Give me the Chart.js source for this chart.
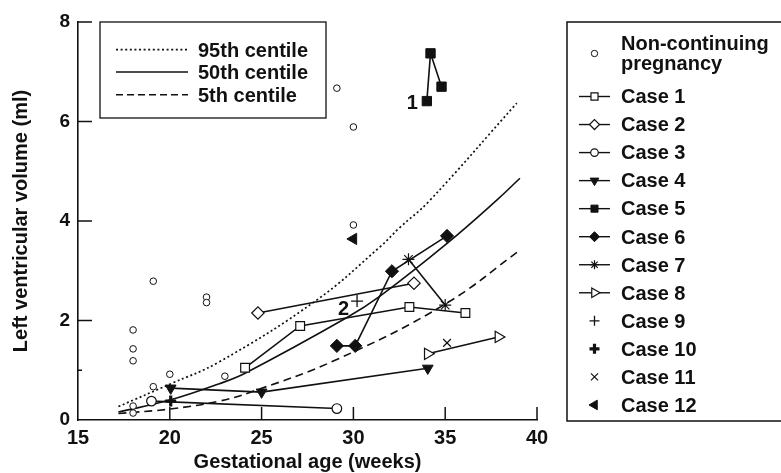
<!DOCTYPE html>
<html><head><meta charset="utf-8">
<script src="https://cdn.jsdelivr.net/npm/chart.js@4"></script>
<style>html,body{margin:0;padding:0;background:#fff}#wrap{width:781px;height:473px;position:relative;overflow:hidden}</style>
</head><body><div id="wrap"><canvas id="c" width="781" height="473"></canvas></div>
<script>
// ---- tick values ----
const xTickValues = [15, 20, 25, 30, 35, 40];
const yTickValues = [0, 2, 4, 6, 8];
const yMinorTickValues = [1];

// ---- series (gestational age in weeks, LV volume in ml) ----
const nonContX = [18, 18, 18, 19.1, 22, 22, 20, 23, 19.1, 18, 18, 29.1, 30, 30];
const nonContY = [1.81, 1.43, 1.19, 2.79, 2.47, 2.36, 0.92, 0.88, 0.67, 0.28, 0.14, 6.67, 5.89, 3.92];
const case1X = [24.1, 27.1, 33.05, 36.1];  const case1Y = [1.05, 1.89, 2.27, 2.15];
const case2X = [24.8, 33.3];               const case2Y = [2.15, 2.75];
const case3X = [19.0, 29.1];               const case3Y = [0.38, 0.23];
const case4X = [20.05, 25.0, 34.05];       const case4Y = [0.64, 0.56, 1.04];
const case5X = [34.0, 34.2, 34.8];         const case5Y = [6.41, 7.37, 6.70];
const case6X = [29.1, 30.1, 32.1, 35.1];   const case6Y = [1.49, 1.49, 2.99, 3.70];
const case7X = [33.0, 35.0];               const case7Y = [3.23, 2.31];
const case8X = [34.05, 37.9];              const case8Y = [1.33, 1.67];
const case9X = [30.2];                     const case9Y = [2.39];
const case10X = [20.05];                   const case10Y = [0.38];
const case11X = [35.1];                    const case11Y = [1.55];
const case12X = [30.0];                    const case12Y = [3.64];

// centile curves
const c95X = [17.2, 20, 22.7, 28, 31.45, 32.5, 34.1, 38.9];
const c95Y = [0.27, 0.72, 1.17, 2.41, 3.48, 3.86, 4.39, 6.37];
const c50X = [17.2, 20, 22.7, 24.1, 29.65, 31.45, 35.1, 37.9, 39.07];
const c50Y = [0.16, 0.40, 0.73, 0.94, 2.06, 2.49, 3.55, 4.45, 4.86];
const c5X = [17.2, 20, 22.7, 24.4, 29, 35, 39.1];
const c5Y = [0.13, 0.22, 0.38, 0.56, 1.2, 2.33, 3.42];

// point annotations
const annotText = ['1', '2'];
const annotX = [34.0, 30.2];
const annotY = [6.41, 2.39];

const centileLabels = ['95th centile', '50th centile', '5th centile'];

// ---- styles ----
const INK = '#111';
const FONT = "bold 20px 'Liberation Sans', Arial, sans-serif";
function pts(xs, ys) { return xs.map((x, i) => ({ x: x, y: ys[i] })); }

const series = [
  { label: 'Non-continuing pregnancy', xs: nonContX, ys: nonContY, ps: 'circle', r: 3.3, fill: '#fff', bw: 1, line: false, rot: 0, lr: 3.2 },
  { label: 'Case 1', xs: case1X, ys: case1Y, ps: 'rect', r: 6.2, fill: '#fff', bw: 1.2, line: true, rot: 0, lr: 5 },
  { label: 'Case 2', xs: case2X, ys: case2Y, ps: 'rectRot', r: 6.2, fill: '#fff', bw: 1.2, line: true, rot: 0, lr: 5 },
  { label: 'Case 3', xs: case3X, ys: case3Y, ps: 'circle', r: 4.8, fill: '#fff', bw: 1.2, line: true, rot: 0, lr: 3.8 },
  { label: 'Case 4', xs: case4X, ys: case4Y, ps: 'triangle', r: 6.2, fill: INK, bw: 1, line: true, rot: 180, lr: 5 },
  { label: 'Case 5', xs: case5X, ys: case5Y, ps: 'rect', r: 6.6, fill: INK, bw: 1, line: true, rot: 0, lr: 5 },
  { label: 'Case 6', xs: case6X, ys: case6Y, ps: 'rectRot', r: 6.6, fill: INK, bw: 1, line: true, rot: 0, lr: 5 },
  { label: 'Case 7', xs: case7X, ys: case7Y, ps: 'star', r: 6, fill: INK, bw: 1.2, line: true, rot: 0, lr: 4.5 },
  { label: 'Case 8', xs: case8X, ys: case8Y, ps: 'triangle', r: 6.5, fill: '#fff', bw: 1.2, line: true, rot: 90, lr: 5.5 },
  { label: 'Case 9', xs: case9X, ys: case9Y, ps: 'cross', r: 6, fill: INK, bw: 1.3, line: false, rot: 0, lr: 5 },
  { label: 'Case 10', xs: case10X, ys: case10Y, ps: 'cross', r: 5.5, fill: INK, bw: 3.2, line: false, rot: 0, lr: 5 },
  { label: 'Case 11', xs: case11X, ys: case11Y, ps: 'crossRot', r: 5.5, fill: INK, bw: 1.2, line: false, rot: 0, lr: 5 },
  { label: 'Case 12', xs: case12X, ys: case12Y, ps: 'triangle', r: 6.5, fill: INK, bw: 1, line: false, rot: 270, lr: 5.5 }
];

const centiles = [
  { label: centileLabels[0], xs: c95X, ys: c95Y, dash: [2, 2.6], w: 1.7 },
  { label: centileLabels[1], xs: c50X, ys: c50Y, dash: [], w: 1.6 },
  { label: centileLabels[2], xs: c5X, ys: c5Y, dash: [8, 5], w: 1.6 }
];

const datasets = series.map(s => ({
  label: s.label, data: pts(s.xs, s.ys), showLine: s.line,
  borderColor: INK, borderWidth: 1.6, tension: 0,
  pointStyle: s.ps, pointRadius: s.r, pointRotation: s.rot,
  pointBackgroundColor: s.fill, pointBorderColor: INK, pointBorderWidth: s.bw
})).concat(centiles.map(c => ({
  label: c.label, data: pts(c.xs, c.ys), showLine: true, borderColor: INK,
  borderWidth: c.w, borderDash: c.dash, pointRadius: 0, tension: 0.4
})));

const extras = {
  id: 'extras',
  beforeDraw(chart) {
    const ctx = chart.ctx;
    ctx.save(); ctx.fillStyle = '#fff'; ctx.fillRect(0, 0, chart.width, chart.height); ctx.restore();
  },
  afterDraw(chart) {
    const ctx = chart.ctx, xs = chart.scales.x, ys = chart.scales.y;
    const L = chart.chartArea.left, B = chart.chartArea.bottom;
    ctx.save();
    ctx.strokeStyle = INK; ctx.fillStyle = INK; ctx.lineWidth = 1.5;
    // inward ticks
    yTickValues.forEach(v => { if (v === 0) return; const p = ys.getPixelForValue(v); ctx.beginPath(); ctx.moveTo(L, p); ctx.lineTo(L + 14, p); ctx.stroke(); });
    yMinorTickValues.forEach(v => { const p = ys.getPixelForValue(v); ctx.beginPath(); ctx.moveTo(L, p); ctx.lineTo(L + 4, p); ctx.stroke(); });
    xTickValues.forEach(v => { if (v === 15) return; const p = xs.getPixelForValue(v); ctx.beginPath(); ctx.moveTo(p, B); ctx.lineTo(p, B - 13); ctx.stroke(); });
    // annotations
    ctx.font = FONT; ctx.textAlign = 'right'; ctx.textBaseline = 'alphabetic';
    annotText.forEach((t, i) => {
      const px = xs.getPixelForValue(annotX[i]), py = ys.getPixelForValue(annotY[i]);
      ctx.fillText(t, px - (i === 0 ? 9 : 8), py + (i === 0 ? 8 : 14));
    });
    // inner centile legend
    ctx.lineWidth = 1.3;
    ctx.fillStyle = '#fff'; ctx.fillRect(100, 22, 226, 96); ctx.fillStyle = INK;
    ctx.strokeRect(100, 22, 226, 96);
    ctx.textAlign = 'left';
    const cBase = [56.7, 79, 101.7];
    centiles.forEach((c, i) => {
      const y = cBase[i] - 7;
      ctx.save(); ctx.lineWidth = c.w; ctx.setLineDash(i === 2 ? [7, 4] : c.dash);
      ctx.beginPath(); ctx.moveTo(116, y); ctx.lineTo(188, y); ctx.stroke(); ctx.restore();
      ctx.fillText(c.label, 198, cBase[i]);
    });
    // right legend
    ctx.lineWidth = 1.5;
    ctx.strokeRect(567, 22, 320, 399);
    const sx = 594.5;
    series.forEach((s, i) => {
      let base, sy;
      if (i === 0) {
        ctx.fillText('Non-continuing', 621, 50);
        ctx.fillText('pregnancy', 621, 69.5);
        sy = 53.5;
      } else {
        base = 103.3 + (i - 1) * 28.04;
        ctx.fillText(s.label, 621, base);
        sy = base - 6.8;
      }
      if (s.line) {
        ctx.save(); ctx.lineWidth = 1.4; ctx.beginPath(); ctx.moveTo(579, sy); ctx.lineTo(610, sy); ctx.stroke(); ctx.restore();
      }
      ctx.save();
      ctx.fillStyle = s.fill; ctx.strokeStyle = INK; ctx.lineWidth = s.bw;
      Chart.helpers.drawPoint(ctx, { pointStyle: s.ps, radius: s.lr, rotation: s.rot, borderWidth: s.bw }, sx, sy);
      ctx.restore();
    });
    ctx.restore();
  }
};

new Chart(document.getElementById('c'), {
  type: 'scatter',
  data: { datasets: datasets },
  options: {
    responsive: false, animation: false, devicePixelRatio: 1,
    layout: { padding: { left: 0, top: 22, right: 244, bottom: 0 } },
    plugins: { legend: { display: false }, tooltip: { enabled: false } },
    scales: {
      x: {
        type: 'linear', min: 15, max: 40,
        afterBuildTicks: s => { s.ticks = xTickValues.map(v => ({ value: v })); },
        afterFit: s => { s.height = 53; },
        grid: { display: false, drawTicks: false },
        border: { display: true, color: INK, width: 1.6 },
        ticks: { color: INK, padding: 6, font: { family: "'Liberation Sans', Arial, sans-serif", weight: 'bold', size: 20 } },
        title: { display: true, text: 'Gestational age (weeks)', color: INK, padding: { top: 0, bottom: 0 }, font: { family: "'Liberation Sans', Arial, sans-serif", weight: 'bold', size: 20, lineHeight: 1.1 } }
      },
      y: {
        type: 'linear', min: 0, max: 8,
        afterBuildTicks: s => { s.ticks = yTickValues.map(v => ({ value: v })); },
        afterFit: s => { s.width = 78; },
        grid: { display: false, drawTicks: false },
        border: { display: true, color: INK, width: 1.6 },
        ticks: { color: INK, padding: 8, font: { family: "'Liberation Sans', Arial, sans-serif", weight: 'bold', size: 19 } },
        title: { display: true, text: 'Left ventricular volume (ml)', color: INK, padding: { top: 9, bottom: 0 }, font: { family: "'Liberation Sans', Arial, sans-serif", weight: 'bold', size: 20, lineHeight: 1.2 } }
      }
    }
  },
  plugins: [extras]
});
</script>
</body></html>
